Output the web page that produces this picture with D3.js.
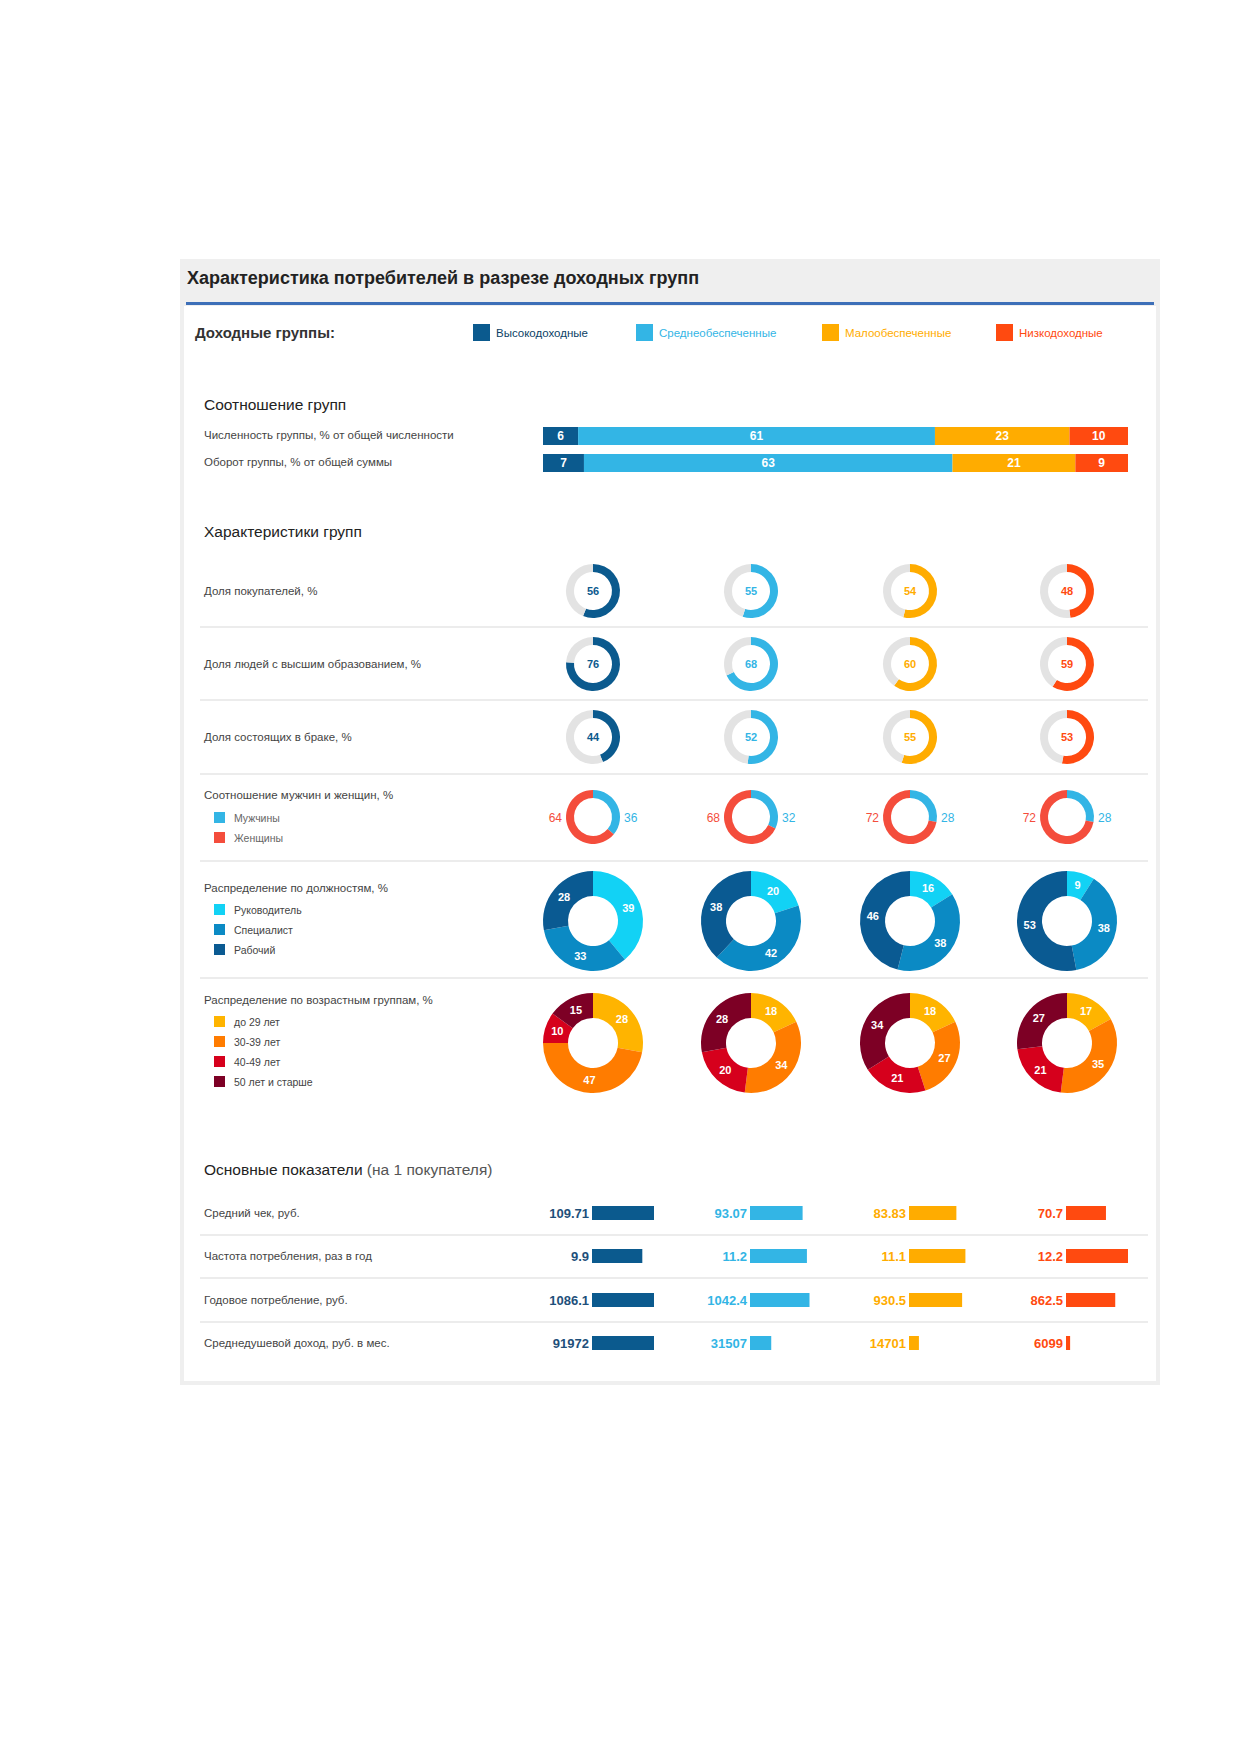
<!DOCTYPE html>
<html><head><meta charset="utf-8">
<script src="https://cdn.jsdelivr.net/npm/d3@7"></script>
<style>body{margin:0;background:#fff}svg{display:block;font-family:"Liberation Sans",Arial,sans-serif}</style>
</head><body><svg id="c" width="1239" height="1754"></svg>
<script>
const groups=["Высокодоходные","Среднеобеспеченные","Малообеспеченные","Низкодоходные"];
const groupColors=["#0b5a8e","#33b5e5","#ffac00","#ff4a10"];
const ratioRows=["Численность группы, % от общей численности","Оборот группы, % от общей суммы"];
const ratioValues=[[6,61,23,10],[7,63,21,9]];
const shareRows=["Доля покупателей, %","Доля людей с высшим образованием, %","Доля состоящих в браке, %"];
const shareValues=[[56,55,54,48],[76,68,60,59],[44,52,55,53]];
const genderLabels=["Мужчины","Женщины"];
const genderColors=["#33b5e5","#f44d3c"];
const menValues=[36,32,28,28];
const jobLabels=["Руководитель","Специалист","Рабочий"];
const jobColors=["#12d2f5","#0b8ac4","#0a5a92"];
const jobValues=[[39,33,28],[20,42,38],[16,38,46],[9,38,53]];
const ageLabels=["до 29 лет","30-39 лет","40-49 лет","50 лет и старше"];
const ageColors=["#ffb400","#ff7c00","#d6001c","#7d0025"];
const ageValues=[[28,47,10,15],[18,34,20,28],[18,27,21,34],[17,35,21,27]];
const metricRows=["Средний чек, руб.","Частота потребления, раз в год","Годовое потребление, руб.","Среднедушевой доход, руб. в мес."];
const metricValues=[["109.71","93.07","83.83","70.7"],["9.9","11.2","11.1","12.2"],["1086.1","1042.4","930.5","862.5"],["91972","31507","14701","6099"]];

const svg=d3.select("#c");
// panel
svg.append("rect").attr("x",180).attr("y",259).attr("width",980).attr("height",1126).attr("fill","#efefef");
svg.append("rect").attr("x",184).attr("y",306).attr("width",972).attr("height",1075).attr("fill","#fff");
svg.append("text").attr("x",187).attr("y",284).attr("font-size",18).attr("font-weight","bold").attr("fill","#222").text("Характеристика потребителей в разрезе доходных групп");
svg.append("rect").attr("x",186).attr("y",302).attr("width",968).attr("height",3).attr("fill","#3d6fb8");
svg.append("text").attr("x",195).attr("y",338).attr("font-size",15).attr("font-weight","bold").attr("fill","#333").text("Доходные группы:");
const legX=[473,636,822,996];
groups.forEach((g,i)=>{
  svg.append("rect").attr("x",legX[i]).attr("y",324).attr("width",17).attr("height",17).attr("fill",groupColors[i]);
  svg.append("text").attr("x",legX[i]+23).attr("y",337).attr("font-size",11.5).attr("fill",i==0?"#0b3f66":groupColors[i]).text(g);
});
function heading(y,t,extra){const tx=svg.append("text").attr("x",204).attr("y",y).attr("font-size",15.5).attr("fill","#222").text(t);
 if(extra)tx.append("tspan").attr("fill","#555").text(extra);}
function lbl(y,t,x=204){svg.append("text").attr("x",x).attr("y",y).attr("font-size",11.5).attr("fill","#444").text(t);}
function sep(y){svg.append("line").attr("x1",200).attr("x2",1148).attr("y1",y).attr("y2",y).attr("stroke","#ececec").attr("stroke-width",2);}

heading(410,"Соотношение групп");
const xb=d3.scaleLinear().domain([0,100]).range([543,1128]);
const rowY=[427,454];
ratioRows.forEach((r,ri)=>{
  lbl(rowY[ri]+12,r);
  let acc=0;
  ratioValues[ri].forEach((v,i)=>{
    svg.append("rect").attr("x",xb(acc)).attr("y",rowY[ri]).attr("width",xb(acc+v)-xb(acc)).attr("height",18).attr("fill",groupColors[i]);
    svg.append("text").attr("x",(xb(acc)+xb(acc+v))/2).attr("y",rowY[ri]+13).attr("text-anchor","middle").attr("font-size",12).attr("font-weight","bold").attr("fill","#fff").text(v);
    acc+=v;
  });
});
heading(537,"Характеристики групп");
const colX=[593,751,910,1067];
const pie=d3.pie().sort(null).value(d=>d);
function donut(cx,cy,vals,colors,ri,ro){
  const a=d3.arc().innerRadius(ri).outerRadius(ro);
  const g=svg.append("g").attr("transform",`translate(${cx},${cy})`);
  const arcs=pie(vals);
  g.selectAll("path").data(arcs).join("path").attr("d",a).attr("fill",(d,i)=>colors[i]);
  return {g,arcs,a};
}
const shareY=[591,664,737];
shareRows.forEach((r,ri)=>{
  lbl(shareY[ri]+4,r);
  shareValues[ri].forEach((v,i)=>{
    const {g}=donut(colX[i],shareY[ri],[v,100-v],[groupColors[i],"#e3e3e3"],19,27);
    g.append("text").attr("y",4).attr("text-anchor","middle").attr("font-size",11).attr("font-weight","bold").attr("fill",groupColors[i]).text(v);
  });
});
[627,700,774,861,978].forEach(sep);
// gender
const gy=817;
lbl(799,"Соотношение мужчин и женщин, %");
genderLabels.forEach((l,i)=>{svg.append("rect").attr("x",214).attr("y",812+i*20).attr("width",11).attr("height",11).attr("fill",genderColors[i]);
 svg.append("text").attr("x",234).attr("y",822+i*20).attr("font-size",10.5).attr("fill","#666").text(l);});
menValues.forEach((m,i)=>{
  donut(colX[i],gy,[m,100-m],genderColors,19,27);
  svg.append("text").attr("x",colX[i]-31).attr("y",gy+5).attr("text-anchor","end").attr("font-size",12).attr("fill",genderColors[1]).text(100-m);
  svg.append("text").attr("x",colX[i]+31).attr("y",gy+5).attr("font-size",12).attr("fill",genderColors[0]).text(m);
});
function bigRow(cy,title,labels,colors,values,ty){
  lbl(ty,title);
  labels.forEach((l,i)=>{svg.append("rect").attr("x",214).attr("y",ty+12+i*20).attr("width",11).attr("height",11).attr("fill",colors[i]);
   svg.append("text").attr("x",234).attr("y",ty+22+i*20).attr("font-size",10.5).attr("fill","#444").text(l);});
  values.forEach((vals,i)=>{
    const {g,arcs,a}=donut(colX[i],cy,vals,colors,25,50);
    g.selectAll("text").data(arcs).join("text").attr("transform",d=>`translate(${a.centroid(d)})`).attr("dy",4).attr("text-anchor","middle")
     .attr("font-size",11).attr("font-weight","bold").attr("fill","#fff").text(d=>d.data);
  });
}
bigRow(921,"Распределение по должностям, %",jobLabels,jobColors,jobValues,892);
bigRow(1043,"Распределение по возрастным группам, %",ageLabels,ageColors,ageValues,1004);

heading(1175,"Основные показатели ","(на 1 покупателя)");
const mY=[1213,1256,1300,1343];
[1235,1278,1322].forEach(sep);
metricRows.forEach((r,ri)=>{
  lbl(mY[ri]+4,r);
  const vals=metricValues[ri].map(Number);
  const s=d3.scaleLinear().domain([0,d3.max(vals)]).range([0,62]);
  vals.forEach((v,i)=>{
    svg.append("rect").attr("x",colX[i]-1).attr("y",mY[ri]-7).attr("width",s(v)).attr("height",14).attr("fill",groupColors[i]);
    svg.append("text").attr("x",colX[i]-4).attr("y",mY[ri]+5).attr("text-anchor","end").attr("font-size",13).attr("font-weight","bold").attr("fill",i==0?"#1e4f7a":groupColors[i]).text(metricValues[ri][i]);
  });
});
</script></body></html>
